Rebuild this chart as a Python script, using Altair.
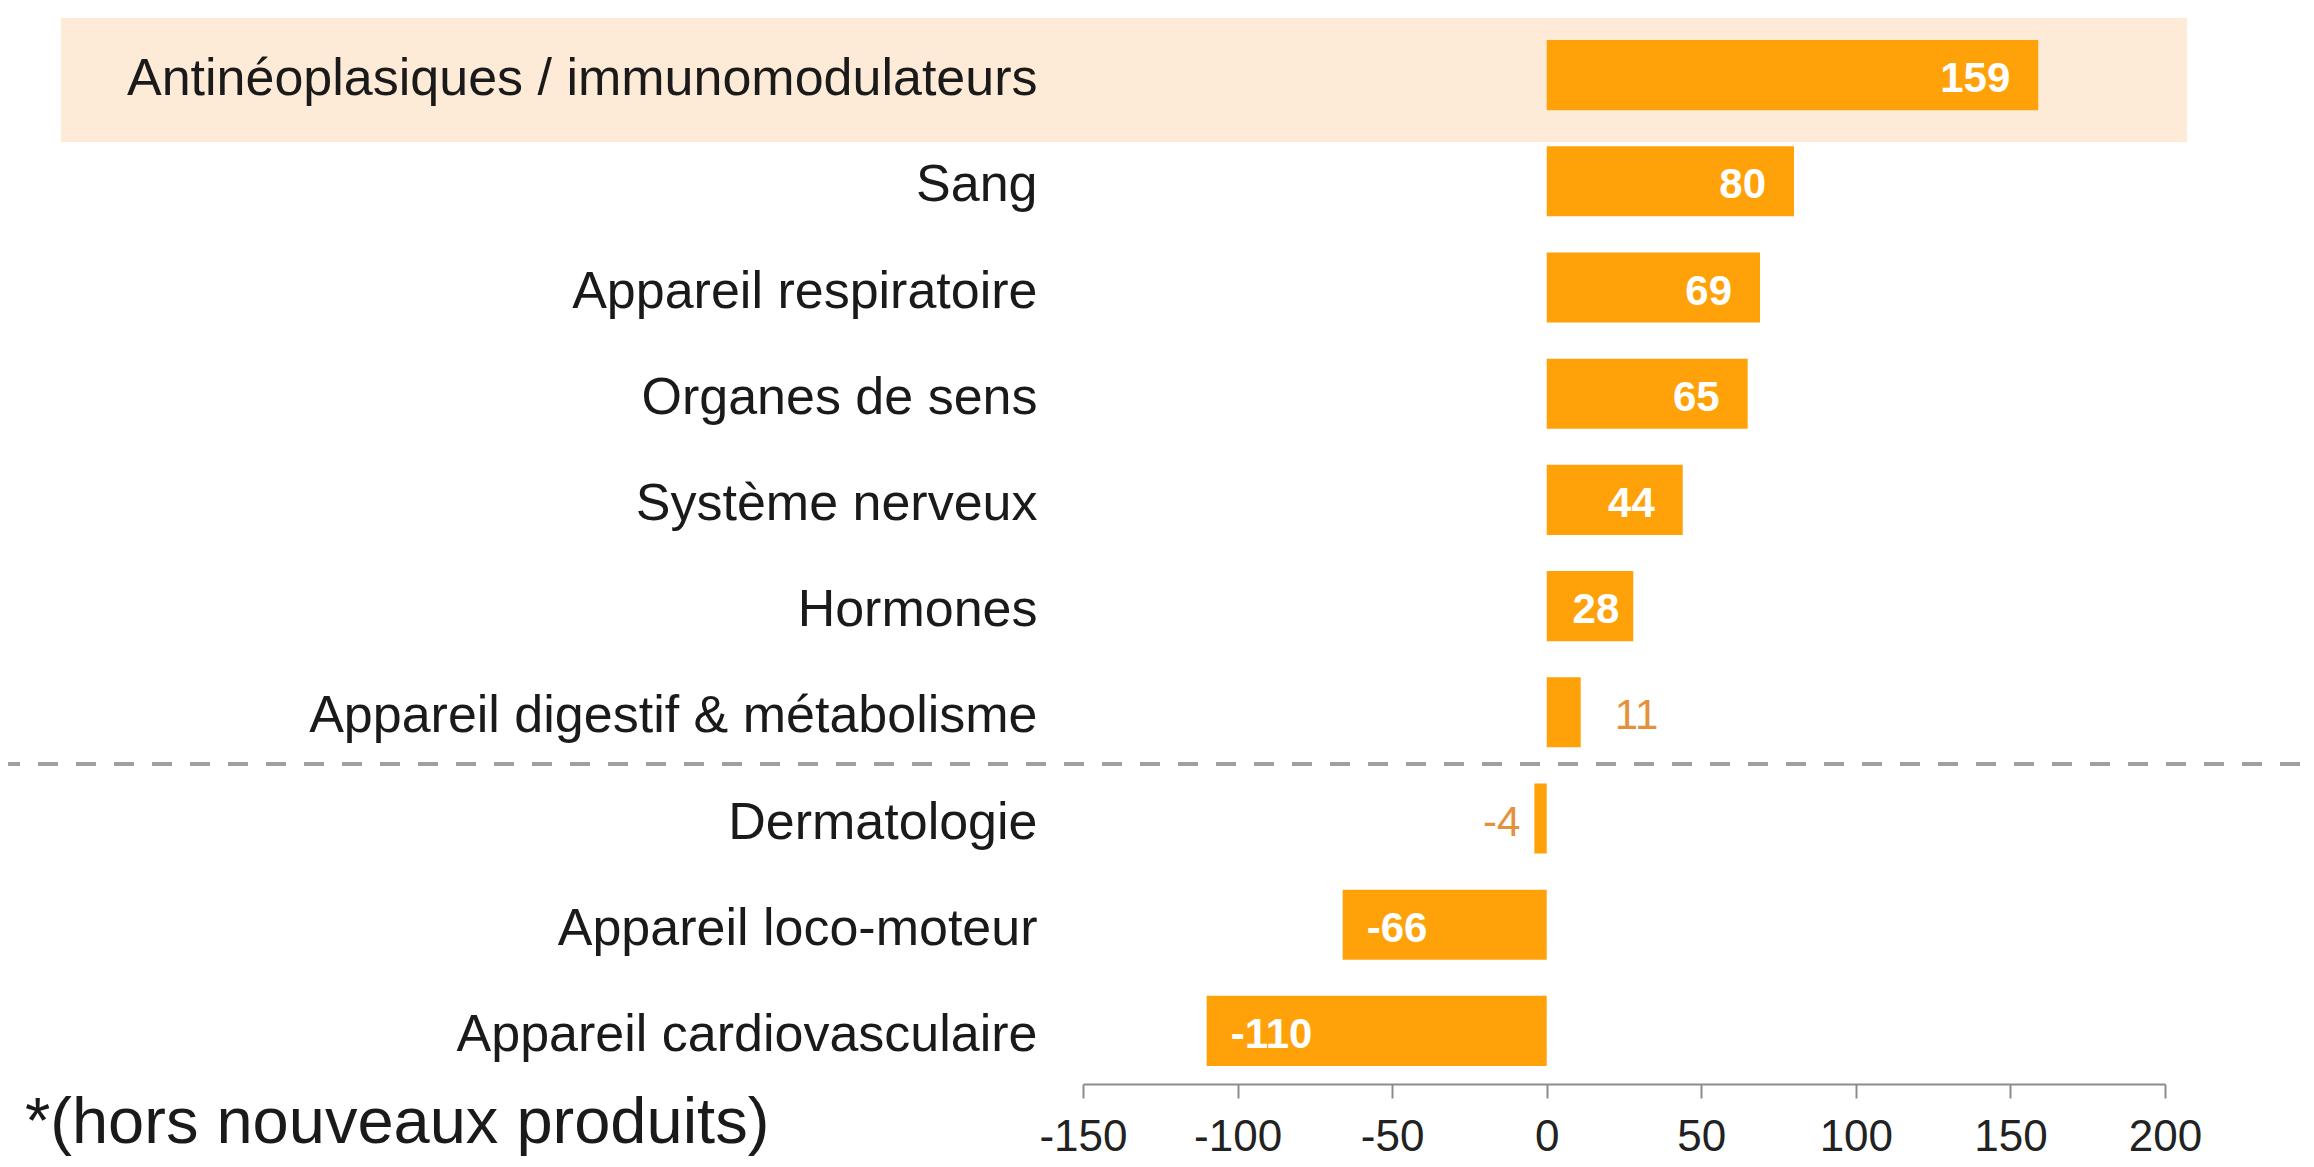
import altair as alt
import pandas as pd

categories = [
    "Antinéoplasiques / immunomodulateurs",
    "Sang",
    "Appareil respiratoire",
    "Organes de sens",
    "Système nerveux",
    "Hormones",
    "Appareil digestif & métabolisme",
    "Dermatologie",
    "Appareil loco-moteur",
    "Appareil cardiovasculaire",
]
values = [159, 80, 69, 65, 44, 28, 11, -4, -66, -110]
x_ticks = [-150, -100, -50, 0, 50, 100, 150, 200]
highlight = ["Antinéoplasiques / immunomodulateurs"]
footnote = ["*(hors nouveaux produits)"]

FONT = "Liberation Sans"
ORANGE = "#FFA20A"

df = pd.DataFrame({"cat": categories, "value": values,
                   "label": [str(v) for v in values]})
df_hl = pd.DataFrame({"cat": highlight})
df_note = pd.DataFrame({"note": footnote})

y_axis = alt.Axis(
    title=None, domain=False, ticks=False, labelFontSize=52, labelFont=FONT,
    labelColor="#1a1a1a", labelPadding=46, labelLimit=1400, labelOffset=4, zindex=2,
)
y_enc = alt.Y("cat:N", sort=categories, axis=y_axis,
              scale=alt.Scale(paddingInner=0.34, paddingOuter=0.17))
x_scale = alt.Scale(domain=[-150, 200], nice=False, zero=False)
x_axis = alt.Axis(
    title=None, values=x_ticks, grid=False, domainColor="#8c8c8c", domainWidth=2,
    tickColor="#8c8c8c", tickWidth=2, tickSize=14, labelFontSize=44, labelFont=FONT,
    labelColor="#222222", labelPadding=17, labelFlush=False,
    labelExpr="'' + datum.value", zindex=2,
)

# highlight band behind the first row (decoration)
band = alt.Chart(df_hl).mark_rect(color="#FDEBD7").encode(
    y=alt.value(-4), y2=alt.value(120), x=alt.value(-1022), x2=alt.value(1104)
)

dash = alt.Chart(df_hl).mark_rule(color="#a0a0a0", strokeWidth=4, strokeDash=[20, 18]).encode(
    y=alt.value(742), x=alt.value(-1083), x2=alt.value(1231)
)

base = alt.Chart(df).encode(y=y_enc)

bars = base.mark_bar(color=ORANGE).encode(
    x=alt.X("value:Q", scale=x_scale, axis=x_axis)
)

txt_common = dict(font=FONT, fontSize=42, baseline="middle", dy=4)
x_txt = alt.X("value:Q", scale=x_scale)

in_pos = base.mark_text(align="right", dx=-28, color="white", fontWeight="bold", **txt_common).encode(
    x=x_txt, text="label:N").transform_filter("datum.value > 30")
in_small = base.mark_text(align="right", dx=-14, color="white", fontWeight="bold", **txt_common).encode(
    x=x_txt, text="label:N").transform_filter("datum.value > 20 && datum.value <= 30")
in_neg = base.mark_text(align="left", dx=24, color="white", fontWeight="bold", **txt_common).encode(
    x=x_txt, text="label:N").transform_filter("datum.value < -20")
out_pos = base.mark_text(align="left", dx=34, color="#E3913A", **txt_common).encode(
    x=x_txt, text="label:N").transform_filter("datum.value >= 0 && datum.value <= 20")
out_neg = base.mark_text(align="right", dx=-14, color="#E3913A", **txt_common).encode(
    x=x_txt, text="label:N").transform_filter("datum.value < 0 && datum.value >= -20")

note = alt.Chart(df_note).mark_text(
    align="left", baseline="alphabetic", font=FONT, fontSize=65, color="#1a1a1a"
).encode(x=alt.value(-1058), y=alt.value(1121), text="note:N")

chart = alt.layer(band, dash, bars, in_pos, in_small, in_neg, out_pos, out_neg, note).properties(
    width=1082,
    height=1062,
    autosize=alt.AutoSizeParams(type="none"),
    padding={"left": 1075, "top": 14, "right": 141, "bottom": 75},
    background="white",
).configure_view(stroke=None)

chart.save("out.html", embed_options={"renderer": "svg", "actions": False})
